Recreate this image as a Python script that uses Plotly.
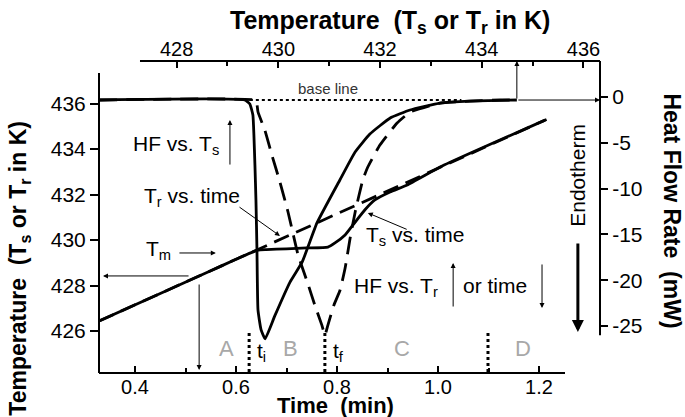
import plotly.graph_objects as go

FONT = "Liberation Sans, Arial, sans-serif"

# ---------------- data ----------------
# Reference temperature Tr vs time (dashed straight line)
tr_time = [0.329, 0.5, 0.7, 0.9, 1.1, 1.215]
tr_temp = [426.44, 428.15, 430.15, 432.15, 434.15, 435.30]

# Sample temperature Ts vs time (solid)
ts_time = [0.329, 0.45, 0.55, 0.60, 0.625, 0.644, 0.66, 0.70, 0.74, 0.782, 0.796,
           0.816, 0.836, 0.855, 0.875, 0.905, 0.939, 1.004, 1.069, 1.212]
ts_temp = [426.44, 427.65, 428.65, 429.15, 429.40, 429.56, 429.58, 429.61, 429.65, 429.69, 429.87,
           430.22, 430.79, 431.32, 431.76, 432.11, 432.42, 433.21, 433.87, 435.27]

# Heat flow vs time (or Tr) (dashed)
hf_time = [0.329, 0.638, 0.641, 0.6436, 0.657, 0.671, 0.687, 0.703, 0.723, 0.743, 0.756, 0.770,
           0.776, 0.782, 0.794, 0.806, 0.816, 0.826, 0.836, 0.851, 0.861, 0.885, 0.919, 0.945,
           1.004, 1.063, 1.123, 1.156]
hf_time_val = [-0.33, -0.33, -0.6, -1.64, -3.6, -6.33, -9.28, -12.55, -17.25, -20.5, -22.7, -24.9,
               -26.0, -24.9, -22.7, -21.1, -18.7, -15.4, -12.55, -9.06, -7.64, -5.24, -2.84, -1.64,
               -0.66, -0.44, -0.33, -0.33]

# Heat flow vs Ts (solid, top temperature axis)
hf_ts_temp = [426.47, 429.34, 429.44, 429.50, 429.52, 429.54, 429.56, 429.58, 429.60, 429.66,
              429.74, 429.93, 430.23, 430.47, 430.76, 431.21, 431.51, 431.80, 432.20, 432.59,
              433.18, 433.77, 434.69]
hf_ts_val = [-0.33, -0.33, -0.76, -1.97, -4.15, -7.42, -11.24, -16.7, -23.25, -25.4,
             -26.4, -23.9, -20.2, -18.0, -13.75, -9.06, -6.0, -4.04, -2.29, -1.42,
             -0.66, -0.44, -0.33]

# tick labels
time_ticks = [0.4, 0.6, 0.8, 1.0, 1.2]
time_ticktext = ["0.4", "0.6", "0.8", "1.0", "1.2"]
time_minor = [0.5, 0.7, 0.9, 1.1]
temp_ticks = [426, 428, 430, 432, 434, 436]
top_ticks = [428, 430, 432, 434, 436]
top_minor = [429, 431, 433, 435]
hf_ticks = [0, -5, -10, -15, -20, -25]
hf_ticktext = ["0", "-5", "-10", "-15", "-20", "-25"]

# phase boundaries (min) and labels
boundary_times = [0.626, 0.776, 1.099]
region_labels = ["A", "B", "C", "D"]
region_times = [0.582, 0.707, 0.929, 1.168]

# axis ranges
X_RANGE = [0.3287, 1.3208]
X2_RANGE = [426.474, 436.325]
Y_RANGE = [424.154, 437.868]
Y2_RANGE = [-30.13, 3.93]

fig = go.Figure()

fig.add_trace(go.Scatter(x=tr_time, y=tr_temp, mode="lines", xaxis="x", yaxis="y",
                         line=dict(color="black", width=2.8, dash="16px,8px")))
fig.add_trace(go.Scatter(x=ts_time, y=ts_temp, mode="lines", xaxis="x", yaxis="y",
                         line=dict(color="black", width=2.8, shape="spline", smoothing=0.4)))
fig.add_trace(go.Scatter(x=hf_time, y=hf_time_val, mode="lines", xaxis="x", yaxis="y2",
                         line=dict(color="black", width=2.8, dash="18px,9px", shape="spline", smoothing=0.4)))
fig.add_trace(go.Scatter(x=hf_ts_temp, y=hf_ts_val, mode="lines", xaxis="x2", yaxis="y2",
                         line=dict(color="black", width=2.8, shape="spline", smoothing=0.4)))

tickfont = dict(family=FONT, size=21, color="black")
fig.update_layout(
    width=685, height=417, showlegend=False,
    paper_bgcolor="white", plot_bgcolor="white",
    margin=dict(l=99, r=85, t=61, b=44),
    font=dict(family=FONT, color="black"),
    xaxis=dict(range=X_RANGE, domain=[0, 1], anchor="y", showline=False, showgrid=False, zeroline=False,
               tickmode="array", tickvals=time_ticks, ticktext=time_ticktext,
               ticks="inside", ticklen=7, tickwidth=2, tickcolor="black",
               tickfont=dict(family=FONT, size=20, color="black"),
               minor=dict(tickmode="array", tickvals=time_minor, ticks="inside", ticklen=5,
                          tickwidth=2, tickcolor="black", showgrid=False)),
    xaxis2=dict(range=X2_RANGE, overlaying="x", side="top", anchor="y", showline=False,
                showgrid=False, zeroline=False, tickmode="array", tickvals=top_ticks,
                ticks="inside", ticklen=7, tickwidth=2, tickcolor="black",
                tickfont=dict(family=FONT, size=20, color="black"),
                minor=dict(tickmode="array", tickvals=top_minor, ticks="inside", ticklen=5,
                           tickwidth=2, tickcolor="black", showgrid=False)),
    yaxis=dict(range=Y_RANGE, domain=[0, 1], anchor="x", showline=False, showgrid=False, zeroline=False,
               tickmode="array", tickvals=temp_ticks, ticks="outside", ticklen=8, tickwidth=2,
               tickcolor="black", tickfont=tickfont),
    yaxis2=dict(range=Y2_RANGE, overlaying="y", side="right", anchor="x", showline=False,
                showgrid=False, zeroline=False, tickmode="array", tickvals=hf_ticks,
                ticktext=hf_ticktext, ticks="outside", ticklen=7, tickwidth=2, tickcolor="black",
                tickfont=tickfont),
)

shapes = []
# partial axis lines
shapes.append(dict(type="line", xref="paper", yref="y", x0=0, x1=0, y0=Y_RANGE[0], y1=437.34,
                   line=dict(color="black", width=2)))
shapes.append(dict(type="line", xref="x", yref="paper", x0=X_RANGE[0], x1=1.2515, y0=0, y1=0,
                   line=dict(color="black", width=2)))
shapes.append(dict(type="line", xref="x2", yref="paper", x0=427.28, x1=X2_RANGE[1], y0=1, y1=1,
                   line=dict(color="black", width=2)))
shapes.append(dict(type="line", xref="paper", yref="y2", x0=1, x1=1, y0=-26.0, y1=Y2_RANGE[1],
                   line=dict(color="black", width=2)))
# dotted base line
shapes.append(dict(type="line", xref="x2", yref="y2", x0=429.44, x1=433.6, y0=-0.33, y1=-0.33,
                   line=dict(color="black", width=2, dash="dot")))
# phase boundaries
for bt in boundary_times:
    shapes.append(dict(type="line", xref="x", yref="y", x0=bt, x1=bt, y0=425.91, y1=Y_RANGE[0],
                       line=dict(color="black", width=3, dash="dot")))
fig.update_layout(shapes=shapes)

ann = []


def arrow(x, y, ax, ay, xref="x", yref="y", width=1, head=2, size=1.0):
    ann.append(dict(x=x, y=y, ax=ax, ay=ay, xref=xref, yref=yref, axref=xref, ayref=yref,
                    showarrow=True, arrowhead=head, arrowsize=size, arrowwidth=width,
                    arrowcolor="black", text="", standoff=0, startstandoff=0))


def text(x, y, s, size=21, xref="x", yref="y", color="black", angle=0, xanchor="center"):
    ann.append(dict(x=x, y=y, xref=xref, yref=yref, text=s, showarrow=False, textangle=angle,
                    xanchor=xanchor, yanchor="middle",
                    font=dict(family=FONT, size=size, color=color)))


# axis titles
text(0.581, 1.125, "<b>Temperature&nbsp; (T<sub>s</sub> or T<sub>r</sub> in K)</b>", size=25,
     xref="paper", yref="paper")
text(0.473, -0.103, "<b>Time&nbsp; (min)</b>", size=22, xref="paper", yref="paper")
text(-0.158, 0.337, "<b>Temperature&nbsp; (T<sub>s</sub> or T<sub>r</sub> in K)</b>", size=23,
     xref="paper", yref="paper", angle=-90)
text(1.143, 0.519, "<b>Heat Flow Rate&nbsp; (mW)</b>", size=23, xref="paper", yref="paper", angle=90)

# baseline arrows to the right axis and top axis
arrow(X2_RANGE[1], -0.33, 434.69, -0.33, xref="x2", yref="y2")
arrow(434.69, Y2_RANGE[1], 434.69, -0.33, xref="x2", yref="y2")
text(0.782, 436.68, "base line", size=15, color="#333333")

# melting point arrows
arrow(0.3366, 428.42, 0.509, 428.42)
arrow(0.527, 424.29, 0.527, 428.11)
text(0.4475, 429.56, "T<sub>m</sub>", size=21)
arrow(0.560, 429.43, 0.485, 429.43)

# curve labels
text(0.513, 431.89, "T<sub>r</sub> vs. time", size=21)
arrow(0.687, 430.18, 0.604, 431.49)
text(0.954, 430.18, "T<sub>s</sub> vs. time", size=21)
arrow(0.861, 431.19, 0.941, 430.44)
text(0.482, 434.18, "HF vs. T<sub>s</sub>", size=21)
arrow(0.588, 435.27, 0.588, 433.25)
text(0.917, 427.93, "HF vs. T<sub>r</sub>", size=21)
arrow(1.030, 428.99, 1.030, 427.01)
text(1.113, 428.02, "or time", size=21)
arrow(1.206, 427.01, 1.206, 428.99)

# endotherm
text(1.277, 432.86, "Endotherm", size=21, angle=-90)
arrow(1.277, 425.96, 1.277, 429.91, width=3, size=0.8)

# region labels
for lab, rt in zip(region_labels, region_times):
    text(rt, 425.25, lab, size=22, color="#a8a8a8")
text(0.65, 425.08, "t<sub>i</sub>", size=21)
text(0.802, 425.08, "t<sub>f</sub>", size=21)

fig.update_layout(annotations=ann)

fig.write_html("out.html", config={"displayModeBar": False},
               post_script="document.body.style.margin='0px';")
